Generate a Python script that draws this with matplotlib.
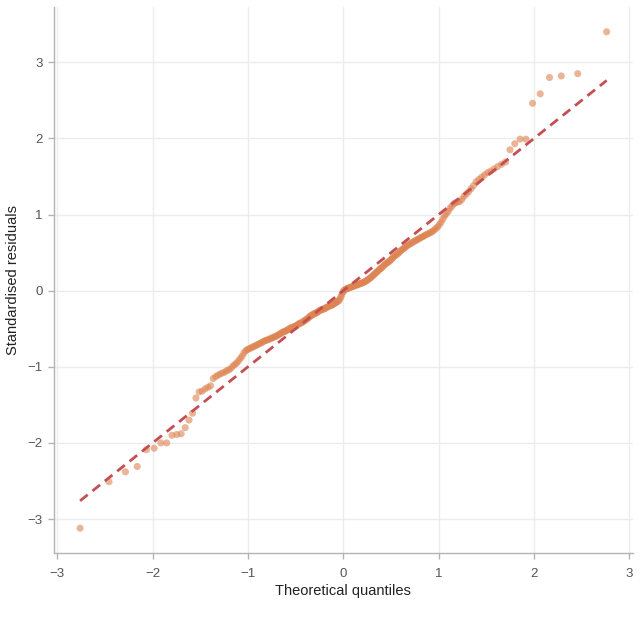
import matplotlib
matplotlib.use("Agg")
import matplotlib.pyplot as plt
from statistics import NormalDist

# Sorted standardised residuals, n = 240
residuals = [
    -3.12, -2.51, -2.38, -2.31, -2.09, -2.07, -2.00, -2.00, -1.90, -1.89,
    -1.88, -1.80, -1.70, -1.61, -1.41, -1.33, -1.32, -1.29, -1.27, -1.25,
    -1.155, -1.13, -1.11, -1.095, -1.08, -1.07, -1.05, -1.04, -1.02, -0.99,
    -0.97, -0.95, -0.92, -0.89, -0.86, -0.82, -0.79, -0.775, -0.765, -0.755,
    -0.745, -0.735, -0.725, -0.715, -0.705, -0.695, -0.685, -0.675, -0.665, -0.655,
    -0.65, -0.645, -0.635, -0.63, -0.62, -0.615, -0.605, -0.60, -0.59, -0.58,
    -0.57, -0.56, -0.55, -0.54, -0.535, -0.53, -0.52, -0.51, -0.50, -0.49,
    -0.485, -0.48, -0.475, -0.47, -0.46, -0.45, -0.44, -0.43, -0.425, -0.42,
    -0.41, -0.40, -0.39, -0.38, -0.37, -0.36, -0.345, -0.335, -0.325, -0.315,
    -0.31, -0.30, -0.295, -0.29, -0.28, -0.27, -0.26, -0.255, -0.25, -0.245,
    -0.24, -0.235, -0.225, -0.22, -0.21, -0.205, -0.20, -0.195, -0.19, -0.18,
    -0.175, -0.165, -0.155, -0.15, -0.14, -0.13, -0.11, -0.08, -0.05, -0.02,
    0.00, 0.01, 0.02, 0.025, 0.03, 0.035, 0.04, 0.045, 0.05, 0.055,
    0.06, 0.065, 0.07, 0.075, 0.08, 0.085, 0.09, 0.095, 0.10, 0.105,
    0.11, 0.12, 0.125, 0.135, 0.145, 0.155, 0.165, 0.175, 0.19, 0.20,
    0.215, 0.225, 0.24, 0.25, 0.265, 0.28, 0.29, 0.30, 0.315, 0.33,
    0.345, 0.355, 0.365, 0.375, 0.385, 0.40, 0.415, 0.43, 0.445, 0.46,
    0.47, 0.48, 0.495, 0.51, 0.525, 0.54, 0.55, 0.56, 0.575, 0.59,
    0.60, 0.61, 0.62, 0.63, 0.64, 0.65, 0.66, 0.67, 0.68, 0.69,
    0.70, 0.71, 0.72, 0.73, 0.74, 0.75, 0.76, 0.77, 0.785, 0.80,
    0.82, 0.84, 0.87, 0.90, 0.94, 0.98, 1.01, 1.04, 1.08, 1.11,
    1.14, 1.155, 1.165, 1.17, 1.20, 1.24, 1.27, 1.30, 1.34, 1.38,
    1.43, 1.46, 1.49, 1.52, 1.55, 1.57, 1.60, 1.63, 1.66, 1.69,
    1.85, 1.93, 1.99, 1.99, 2.46, 2.585, 2.80, 2.82, 2.85, 3.40,
]
line_slope = 1.0
line_intercept = 0.0
x_label = "Theoretical quantiles"
y_label = "Standardised residuals"
tick_values = [-3, -2, -1, 0, 1, 2, 3]
tick_labels = ["\u22123", "\u22122", "\u22121", "0", "1", "2", "3"]

# Theoretical quantiles (Filliben plotting positions, as in scipy.stats.probplot)
n = len(residuals)
nd = NormalDist()
pos = []
for i in range(1, n + 1):
    if i == 1:
        p = 1 - 0.5 ** (1.0 / n)
    elif i == n:
        p = 0.5 ** (1.0 / n)
    else:
        p = (i - 0.3175) / (n + 0.365)
    pos.append(p)
theo = [nd.inv_cdf(p) for p in pos]

plt.rcParams['font.family'] = ['Liberation Sans', 'DejaVu Sans']

fig = plt.figure(figsize=(6.4, 6.33), dpi=100)
ax = fig.add_axes([0.084, 0.1264, 0.905, 0.8626])

ax.scatter(theo, residuals, s=26, color="#DD8452", alpha=0.6, edgecolors="none", zorder=2)
lx = [theo[0], theo[-1]]
ly = [line_slope * v + line_intercept for v in lx]
ax.plot(lx, ly, linestyle=(0, (3.5, 2.2)), color="#C44E52", linewidth=2, zorder=3)

ax.set_xticks(tick_values)
ax.set_yticks(tick_values)
ax.set_xticklabels(tick_labels)
ax.set_yticklabels(tick_labels)
ax.grid(True, color="#ececec", linewidth=1)
ax.set_axisbelow(True)
for side in ["top", "right"]:
    ax.spines[side].set_visible(False)
for side in ["left", "bottom"]:
    ax.spines[side].set_color("#b3b3b3")
    ax.spines[side].set_linewidth(1)
ax.tick_params(axis="both", colors="#b3b3b3", labelcolor="#555555", labelsize=9.5, length=4, width=1)
ax.tick_params(axis="x", pad=6.5)
ax.tick_params(axis="y", pad=4)
ax.set_xlabel(x_label, fontsize=10.5, color="#222222", labelpad=3)
ax.set_ylabel(y_label, fontsize=10.5, color="#222222", labelpad=5)

fig.savefig("out.png", dpi=100, facecolor="white")
